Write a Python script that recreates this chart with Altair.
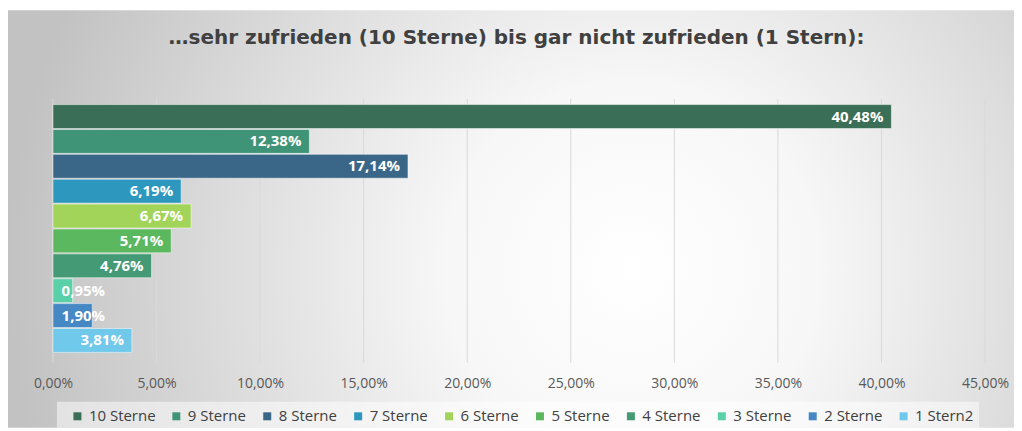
import altair as alt
import pandas as pd

categories = ["10 Sterne", "9 Sterne", "8 Sterne", "7 Sterne", "6 Sterne",
              "5 Sterne", "4 Sterne", "3 Sterne", "2 Sterne", "1 Stern2"]
values = [40.48, 12.38, 17.14, 6.19, 6.67, 5.71, 4.76, 0.95, 1.90, 3.81]
colors = ["#3b6e57", "#3f9478", "#3a6688", "#2e97bd", "#a2d45a",
          "#5cb85f", "#449a74", "#5ad0a8", "#4688c4", "#70c8ea"]
ticks = [0, 5, 10, 15, 20, 25, 30, 35, 40, 45]
title_text = "…sehr zufrieden (10 Sterne) bis gar nicht zufrieden (1 Stern):"

df = pd.DataFrame({"cat": categories, "value": values})
tick_df = pd.DataFrame({"t": ticks})
one = pd.DataFrame({"a": [0]})

W, H = 933, 259
PL, PT, PR, PB = 45, 91, 29, 71
FONT = "Open Sans"
fmt = "replace(format(datum.value/100, '.2%'), '.', ',')"

xscale = alt.Scale(domain=[0, 45], nice=False, zero=True)
yscale = alt.Scale(paddingInner=0.04, paddingOuter=0.22)
xaxis = alt.Axis(values=ticks, labelExpr=fmt, grid=False, ticks=False,
                 tickSize=0, domain=False, title=None, labelFont=FONT,
                 labelFontSize=14, labelColor="#595959", labelFlush=False,
                 labelPadding=19, zindex=2)

bg = alt.Chart(one).mark_rect(
    fill={
        "gradient": "radial",
        "x1": 0.62, "y1": 0.55, "r1": 0,
        "x2": 0.62, "y2": 0.55, "r2": 0.62,
        "stops": [
            {"offset": 0, "color": "#ffffff"},
            {"offset": 0.3, "color": "#f7f7f7"},
            {"offset": 1, "color": "#c2c2c2"},
        ],
    }
).encode(
    x=alt.value(-PL), x2=alt.value(W + PR),
    y=alt.value(-PT + 2), y2=alt.value(H + PB - 1),
)

legend_box = alt.Chart(one).mark_rect(fill="#ffffff", fillOpacity=0.5).encode(
    x=alt.value(57 - 8 - PL), x2=alt.value(980 - 8 - PL),
    y=alt.value(402 - 8 - PT), y2=alt.value(428 - 8 - PT),
)

grid = alt.Chart(tick_df).mark_rule(color="#d9d9d9", strokeWidth=1).encode(
    x=alt.X("t:Q", scale=xscale, axis=xaxis),
    y=alt.value(0), y2=alt.value(H + 5),
)

bars = alt.Chart(df).mark_bar(stroke="white", strokeOpacity=0.5, strokeWidth=1).encode(
    x=alt.X("value:Q", scale=xscale, axis=xaxis),
    y=alt.Y("cat:N", sort=categories, scale=yscale, axis=None),
    color=alt.Color("cat:N", scale=alt.Scale(domain=categories, range=colors),
                    legend=alt.Legend(orient="none", legendX=17, legendY=310,
                                      direction="horizontal", columns=10, title=None,
                                      gridAlign="none",
                                      symbolType="square", symbolSize=64,
                                      symbolStrokeWidth=0, symbolOpacity=1,
                                      labelFont=FONT, labelFontSize=15,
                                      labelColor="#404040", labelOffset=4,
                                      columnPadding=13, padding=0)),
)

labels = alt.Chart(df).transform_calculate(
    lx="max(datum.value, 2.9)",
    label=fmt,
).mark_text(align="right", baseline="middle", dx=-8, font=FONT, fontSize=15,
            fontWeight="bold", color="white").encode(
    x=alt.X("lx:Q", scale=xscale, axis=xaxis),
    y=alt.Y("cat:N", sort=categories, scale=yscale, axis=None),
    text="label:N",
)

title = alt.Chart(one).mark_text(align="center", baseline="middle", font="DejaVu Sans",
                                 fontSize=20, fontWeight="bold", color="#404040").encode(
    x=alt.value(517 - 8 - PL), y=alt.value(38 - 8 - PT),
    text=alt.value(title_text),
)

chart = alt.layer(bg, legend_box, grid, bars, labels, title).properties(
    width=W, height=H,
    autosize=alt.AutoSizeParams(type="none"),
    padding={"left": PL, "top": PT, "right": PR, "bottom": PB},
    background="white",
).configure_view(stroke=None)

chart.save("out.html", embed_options={"renderer": "svg", "actions": False})
